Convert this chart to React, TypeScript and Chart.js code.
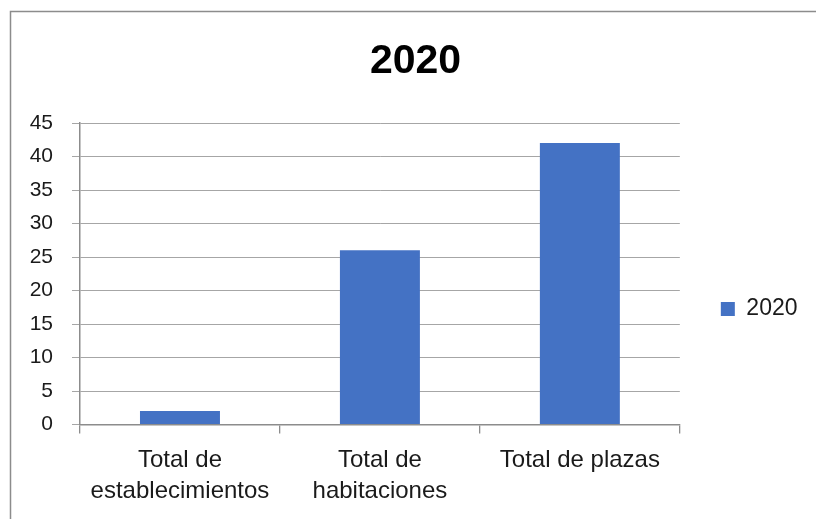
import React, { useEffect, useRef } from "react";
import { Chart, registerables } from "chart.js";

Chart.register(...registerables);

const categories: (string | string[])[] = [
  ["Total de", "establecimientos"],
  ["Total de", "habitaciones"],
  "Total de plazas",
];
const seriesName = "2020";
const seriesValues = [2, 26, 42];
const chartTitle = "2020";
const yMin = 0;
const yMax = 45;
const yStep = 5;

const FONT = "'Liberation Sans', Arial, sans-serif";

const framePlugin = {
  id: "frame",
  beforeDraw(chart: any) {
    const ctx = chart.ctx;
    ctx.save();
    ctx.fillStyle = "#ffffff";
    ctx.fillRect(0, 0, chart.width, chart.height);
    ctx.strokeStyle = "#8c8c8c";
    ctx.lineWidth = 1.5;
    ctx.strokeRect(10.5, 11.5, chart.width + 50, chart.height + 50);
    ctx.restore();
  },
};

export default function App() {
  const ref = useRef<HTMLCanvasElement | null>(null);

  useEffect(() => {
    if (!ref.current) return;
    const chart = new Chart(ref.current, {
      type: "bar",
      data: {
        labels: categories,
        datasets: [
          {
            label: seriesName,
            data: seriesValues,
            backgroundColor: "#4472c4",
            borderWidth: 0,
            categoryPercentage: 0.8,
            barPercentage: 0.5,
          },
        ],
      },
      options: {
        animation: false,
        responsive: false,
        layout: { padding: { top: 12, right: 8.5, bottom: 0, left: 23.5 } },
        plugins: {
          title: {
            display: true,
            text: chartTitle,
            color: "#000000",
            font: { family: FONT, size: 41, weight: "bold", lineHeight: 1.2 },
            padding: { top: 25, bottom: 36.8 },
          },
          legend: {
            position: "right",
            title: {
              display: true,
              text: " ",
              font: { family: FONT, size: 12, lineHeight: 1.2 },
              padding: { top: 0, bottom: 72.6 },
            },
            labels: {
              boxWidth: 14,
              boxHeight: 14,
              padding: 41,
              color: "#1a1a1a",
              font: { family: FONT, size: 23 },
            },
          },
          tooltip: { enabled: false },
        },
        scales: {
          x: {
            afterFit(scale: any) {
              scale.height = 94.5;
            },
            grid: {
              display: true,
              drawOnChartArea: false,
              drawTicks: true,
              tickLength: 9,
              color: "#8c8c8c",
              lineWidth: 1.3,
              offset: true,
            },
            border: { display: true, color: "#8c8c8c", width: 1.5 },
            ticks: {
              color: "#1a1a1a",
              padding: 11,
              maxRotation: 0,
              autoSkip: false,
              font: { family: FONT, size: 24, lineHeight: 1.29 },
            },
          },
          y: {
            min: yMin,
            max: yMax,
            afterFit(scale: any) {
              scale.width = 56.5;
            },
            grid: {
              color: "#a6a6a6",
              lineWidth: 1,
              drawTicks: true,
              tickLength: 8,
            },
            border: { display: true, color: "#8c8c8c", width: 1.5 },
            ticks: {
              stepSize: yStep,
              color: "#1a1a1a",
              padding: 19,
              font: { family: FONT, size: 21 },
            },
          },
        },
      },
      plugins: [framePlugin],
    });
    return () => chart.destroy();
  }, []);

  return (
    <canvas
      ref={ref}
      width={816}
      height={519}
      style={{ position: "absolute", left: 0, top: 0, width: 816, height: 519 }}
    />
  );
}
